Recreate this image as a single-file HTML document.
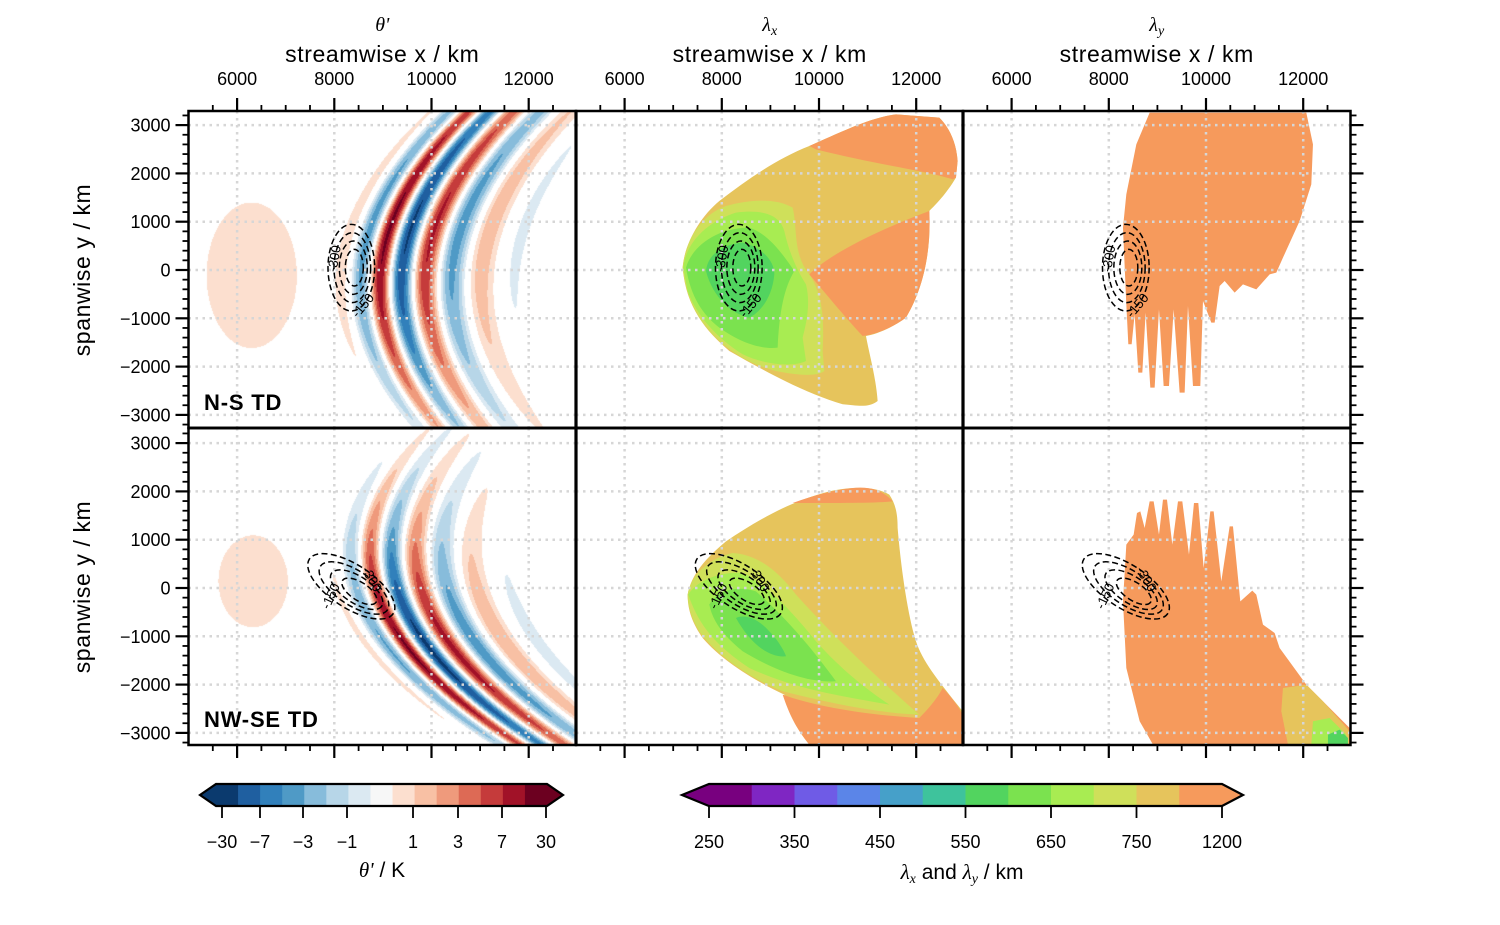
<!DOCTYPE html>
<html><head><meta charset="utf-8">
<style>
body{margin:0;background:#fff;}
#wrap{position:relative;width:1500px;height:925px;overflow:hidden;font-family:"Liberation Sans","DejaVu Sans",sans-serif;}
canvas{position:absolute;}
svg{position:absolute;left:0;top:0;}
</style></head>
<body>
<div id="wrap">
<canvas id="c1" width="388" height="317" style="left:188px;top:111px"></canvas>
<canvas id="c2" width="388" height="317" style="left:188px;top:428px"></canvas>
<svg id="s" width="1500" height="925" viewBox="0 0 1500 925">
 <g transform="translate(576,111) scale(0.3333)">
  <path fill="#e6c45c" d="M320,470 C325,400 370,320 430,270 C520,200 610,140 700,105 C780,70 880,20 960,10 L1090,20 C1110,40 1140,80 1145,150 L1140,200 C1110,250 1080,280 1060,300 C1065,400 1050,520 990,620 C950,650 900,670 870,675 C880,730 900,800 905,870 C880,890 850,885 800,880 C700,850 600,800 460,720 C390,660 330,590 320,470 Z"/>
  <path fill="#f69a5c" d="M700,105 C780,70 880,20 960,10 L1090,20 C1110,40 1140,80 1145,150 L1140,200 L1130,205 C1050,180 900,160 720,115 Z"/>
  <path fill="#f69a5c" d="M700,490 C760,430 900,360 1060,300 C1065,400 1050,520 990,620 C950,650 900,670 860,675 C800,610 760,560 700,490 Z"/>
  <path fill="#cfe05a" d="M320,470 C330,380 380,310 450,285 C520,265 600,260 650,290 C665,350 650,430 700,490 C740,550 745,620 740,720 L745,780 C720,800 650,790 600,780 C520,760 460,720 420,680 C360,620 330,560 320,470 Z"/>
  <path fill="#a8ec52" d="M322,470 C330,390 400,330 480,305 C560,295 610,310 625,360 C640,430 670,490 690,520 C705,580 690,640 680,680 L690,750 C650,770 560,760 500,730 C420,680 360,610 335,540 Z"/>
  <path fill="#7be24f" d="M330,470 C350,400 430,350 520,350 C580,370 620,430 655,480 C625,530 610,600 605,710 C560,715 500,700 430,650 C380,610 345,560 330,470 Z"/>
  <path fill="#52d45f" d="M390,480 C395,430 440,400 500,395 C560,410 595,450 595,490 C590,550 560,600 520,620 C470,610 410,560 390,480 Z"/>
 </g>
 <g transform="translate(576,428) scale(0.3333)">
  <path fill="#e6c45c" d="M335,500 C345,440 390,390 450,340 C540,280 640,220 760,190 C830,175 900,175 940,200 C960,230 965,260 965,300 C975,420 995,560 1020,640 C1040,700 1080,750 1160,850 L1160,950 L700,950 C660,900 640,860 625,800 C540,760 440,700 380,630 C345,580 335,540 335,500 Z"/>
  <path fill="#f69a5c" d="M650,225 C720,200 780,185 830,180 C880,175 920,185 950,220 C900,225 800,225 650,225 Z"/>
  <path fill="#f69a5c" d="M620,800 C700,830 850,860 1030,870 C1070,830 1090,800 1100,780 C1130,810 1150,840 1160,860 L1160,950 L700,950 C660,900 640,860 620,800 Z"/>
  <path fill="#cfe05a" d="M335,500 C345,440 400,390 470,375 C540,380 600,420 660,500 C760,610 870,720 1030,860 C900,855 760,825 620,790 C520,750 420,680 370,610 C345,570 335,530 335,500 Z"/>
  <path fill="#a8ec52" d="M337,500 C360,460 430,430 500,435 C560,460 640,540 720,640 C800,730 880,790 940,830 C800,805 660,785 520,720 C430,660 370,600 337,500 Z"/>
  <path fill="#7be24f" d="M400,530 C420,490 480,470 540,490 C620,560 700,650 780,760 C700,765 600,730 500,670 C440,620 410,580 400,530 Z"/>
  <path fill="#52d45f" d="M480,570 C500,560 540,565 580,610 C610,640 630,680 630,685 C590,690 530,660 480,570 Z"/>
 </g>
 <g transform="translate(963,111) scale(0.3333)">
  <path fill="#f69a5c" d="M480,350 L490,250 L520,100 L560,5 L1030,5 L1050,100 L1045,220 L1010,330 L960,440 L940,485 L920,490 L880,535 L840,520 L815,545 L785,510 L770,525 L755,635 L745,635 L720,570 L712,825 L690,825 L675,585 L665,845 L650,845 L632,595 L618,825 L602,825 L588,595 L575,830 L562,830 L548,605 L538,785 L526,785 L515,610 L506,700 L496,700 L490,580 Z"/>
 </g>
 <g transform="translate(963,428) scale(0.3333)">
  <path fill="#f69a5c" d="M480,520 L490,350 L512,320 L522,255 L532,250 L545,300 L560,220 L572,220 L588,320 L600,215 L612,215 L628,350 L645,220 L658,220 L678,380 L693,225 L706,225 L722,420 L742,250 L752,250 L775,460 L800,295 L810,295 L832,520 L868,488 L880,500 L900,590 L935,615 L950,660 L1030,770 L1160,900 L1160,950 L570,950 L530,880 L490,720 Z"/>
  <path fill="#e6c45c" d="M960,780 L1030,770 L1080,820 L1160,910 L1160,950 L975,950 L955,850 Z"/>
  <path fill="#a8ec52" d="M1050,880 L1100,870 L1150,920 L1150,950 L1045,950 Z"/>
  <path fill="#52d45f" d="M1095,920 L1130,905 L1155,930 L1155,950 L1095,950 Z"/>
 </g>
 <g id="grid"></g>
 <g id="contours"></g>
 <g id="axes"></g>
 <g id="cbars"></g>
</svg>
</div>
<script>
// ---- data arrays ----
const xTicks = [6000, 8000, 10000, 12000];
const yTicks = [-3000, -2000, -1000, 0, 1000, 2000, 3000];
const panelTitles = ["θ'", "λx", "λy"];
const rowLabels = ["N-S TD", "NW-SE TD"];
const thetaTickLabels = ["−30", "−7", "−3", "−1", "1", "3", "7", "30"];
const lambdaTickLabels = ["250", "350", "450", "550", "650", "750", "1200"];
const thetaColors = ["#0b3a6e","#1f5fa0","#3180bb","#4f9ac6","#87bcdb","#b7d6e8","#dbe9f2","#f7f7f7","#fcdfcf","#f8c0a4","#ef9a7c","#dd6a55","#c53b3b","#a11228","#6c0020"];
const lambdaColors = ["#78007f","#7f26c3","#6f5be6","#5b85e8","#46a0c9","#3ec39c","#52d45f","#7be24f","#a8ec52","#cfe05a","#e6c45c","#f69a5c"];
const ampLevels = [0.08, 0.18, 0.3, 0.43, 0.56, 0.7, 0.85];
const negColors = ["#dbe9f2","#b7d6e8","#87bcdb","#4f9ac6","#3180bb","#1f5fa0","#0b3a6e"];
const posColors = ["#fcdfcf","#f8c0a4","#ef9a7c","#dd6a55","#c53b3b","#a11228","#6c0020"];
// wave-packet parameters per row: [x0, curvature, tilt, crestOffset, yCenter, yWidth, downstreamWidth, amplitude]
const waveNS = [8150, 1.4e-4, 0.09, 800, 900, 4000, 1800, 0.9];
const waveNWSE = [8100, 1.9e-4, -0.3, 750, -1300, 3000, 1800, 0.92];
// upstream blob per row: [xCenter, yCenter, xWidth, yWidth, amplitude]
const blobNS = [6300, -100, 1170, 1900, 0.15];
const blobNWSE = [6330, 150, 900, 1200, 0.15];

const NS = "http://www.w3.org/2000/svg";
const panelsX = [188.5, 576, 963];
const rowsY = [111, 428];
const PW = 387.5, PH = 317;
const XS = 0.0486, YS = 0.0483;
function sx(p, x){ return panelsX[p] + (x - 5000) * XS; }
function sy(r, y){ return rowsY[r] + 159 + (r ? 1 : 0) - y * YS; }
function mk(tag, attrs, parent){ const e = document.createElementNS(NS, tag); for (const k in attrs) e.setAttribute(k, attrs[k]); parent.appendChild(e); return e; }

function drawTheta(id, w, b, r){
  const cv = document.getElementById(id), ctx = cv.getContext('2d');
  const img = ctx.createImageData(388, 317);
  const hex = c => [parseInt(c.substr(1,2),16), parseInt(c.substr(3,2),16), parseInt(c.substr(5,2),16)];
  const pc = posColors.map(hex), nc = negColors.map(hex);
  for (let py = 0; py < 317; py++){
    const y = (159 + (r ? 1 : 0) - py) / YS;
    for (let px = 0; px < 388; px++){
      const x = 5000 + px / XS;
      const s = x - (w[0] + w[1]*y*y + w[2]*y);
      const d = s - w[3];
      const lam = 850 + 0.1 * Math.max(d, 0);
      const env = w[7] * Math.exp(-Math.pow((s - 900) / (s < 900 ? 650 : w[6]), 2)) * Math.exp(-Math.pow((y - w[4]) / w[5], 2));
      const ph = Math.cos(2 * Math.PI * d / lam);
      let v = env * Math.sign(ph) * Math.pow(Math.abs(ph), 1.3);
      v += b[4] * Math.exp(-Math.pow((x - b[0]) / b[2], 2) - Math.pow((y - b[1]) / b[3], 2));
      const a = Math.abs(v);
      let k = -1;
      for (let i = 0; i < ampLevels.length; i++) if (a >= ampLevels[i]) k = i;
      const o = (py * 388 + px) * 4;
      if (k < 0){ img.data[o]=255; img.data[o+1]=255; img.data[o+2]=255; }
      else { const c = v > 0 ? pc[k] : nc[k]; img.data[o]=c[0]; img.data[o+1]=c[1]; img.data[o+2]=c[2]; }
      img.data[o+3] = 255;
    }
  }
  ctx.putImageData(img, 0, 0);
}
drawTheta('c1', waveNS, blobNS, 0);
drawTheta('c2', waveNWSE, blobNWSE, 1);

const grid = document.getElementById('grid');
for (let r = 0; r < 2; r++) for (let p = 0; p < 3; p++){
  xTicks.forEach(t => { const l = mk('line', {x1:sx(p,t), x2:sx(p,t), y1:rowsY[r], y2:rowsY[r]+PH, stroke:'#d6d6d6', 'stroke-width':2.5, 'stroke-dasharray':'2.5,4.5'}, grid);
      });
  yTicks.forEach(t => { const l = mk('line', {x1:panelsX[p], x2:panelsX[p]+PW, y1:sy(r,t), y2:sy(r,t), stroke:'#d6d6d6', 'stroke-width':2.5, 'stroke-dasharray':'2.5,4.5'}, grid);
      });
}

const cg = document.getElementById('contours');
for (let r = 0; r < 2; r++) for (let p = 0; p < 3; p++){
  const g = mk('g', {transform:`translate(${panelsX[p]-0.5},${rowsY[r]}) scale(0.3333)`, fill:'none', stroke:'#000', 'stroke-width':4.5, 'stroke-dasharray':'18,10'}, cg);
   
  if (r === 0){
    [[70,130],[55,105],[42,80],[27,55]].forEach((e,i) => mk('ellipse', {cx:490+i*3, cy:470, rx:e[0], ry:e[1]}, g));
    const t1 = mk('text', {x:0, y:0, transform:'translate(452,445) rotate(-80)', 'font-size':40, fill:'#000', stroke:'none', 'text-anchor':'middle'}, g); t1.textContent = '-300';
    const t2 = mk('text', {x:0, y:0, transform:'translate(535,592) rotate(-50)', 'font-size':40, fill:'#000', stroke:'none', 'text-anchor':'middle'}, g); t2.textContent = '-150';
  } else {
    [[150,65],[120,52],[90,40],[60,27]].forEach((e,i) => mk('ellipse', {cx:490+i*8, cy:475+i*5, rx:e[0], ry:e[1], transform:`rotate(33 ${490+i*8} ${475+i*5})`}, g));
    const t1 = mk('text', {x:0, y:0, transform:'translate(540,460) rotate(60)', 'font-size':40, fill:'#000', stroke:'none', 'text-anchor':'middle'}, g); t1.textContent = '-300';
    const t2 = mk('text', {x:0, y:0, transform:'translate(440,510) rotate(-65)', 'font-size':40, fill:'#000', stroke:'none', 'text-anchor':'middle'}, g); t2.textContent = '-150';
  }
}

const ax = document.getElementById('axes');
const L = panelsX[0], R = panelsX[2] + PW;
for (let r = 0; r < 2; r++){
  for (let p = 0; p < 3; p++){
    const f = mk('rect', {x:panelsX[p], y:rowsY[r], width:(p<2?panelsX[p+1]-panelsX[p]:PW), height:PH, fill:'none', stroke:'#000', 'stroke-width': 2.5}, ax);
     
  }
  for (let y = -3200; y <= 3200; y += 200){
    const maj = (y % 1000 === 0);
    const len = maj ? 13 : 6;
    const yy = sy(r, y);
    if (yy < rowsY[r] - 0.5 || yy > rowsY[r] + PH + 0.5) continue;
    mk('line', {x1:L-len, x2:L, y1:yy, y2:yy, stroke:'#000', 'stroke-width':maj?2.2:1.8}, ax);
    mk('line', {x1:R, x2:R+len, y1:yy, y2:yy, stroke:'#000', 'stroke-width':maj?2.2:1.8}, ax);
    if (maj){
      const t = mk('text', {x:L-18, y:yy+6.5, 'text-anchor':'end', 'font-size':18, fill:'#000'}, ax);
       
      t.textContent = y < 0 ? '−' + (-y) : String(y);
    }
  }
  const yl = mk('text', {x:0, y:0, transform:`translate(90,${rowsY[r]+159}) rotate(-90)`, 'text-anchor':'middle', 'font-size':23, 'letter-spacing':'0.6', fill:'#000'}, ax);
   
  yl.textContent = 'spanwise y / km';
  const rl = mk('text', {x:204, y:rowsY[r]+299, 'font-size':22, 'font-weight':'bold', 'letter-spacing':'0.8', fill:'#000'}, ax);
   
  rl.textContent = rowLabels[r];
}
for (let p = 0; p < 3; p++){
  for (let x = 5500; x <= 12500; x += 500){
    const maj = (x % 2000 === 0);
    const len = maj ? 13 : 6;
    const xx = sx(p, x);
    mk('line', {x1:xx, x2:xx, y1:rowsY[0]-len, y2:rowsY[0], stroke:'#000', 'stroke-width':maj?2.2:1.8}, ax);
    mk('line', {x1:xx, x2:xx, y1:rowsY[1]+PH, y2:rowsY[1]+PH+len, stroke:'#000', 'stroke-width':maj?2.2:1.8}, ax);
  }
  xTicks.forEach(t => {
    const tl = mk('text', {x:sx(p,t), y:85, 'text-anchor':'middle', 'font-size':18, fill:'#000'}, ax);
     
    tl.textContent = String(t);
  });
  const cx = panelsX[p] + PW/2;
  const xt = mk('text', {x:cx, y:62, 'text-anchor':'middle', 'font-size':23, 'letter-spacing':'0.6', fill:'#000'}, ax);
   
  xt.textContent = 'streamwise x / km';
  const pt = mk('text', {x:cx, y:31, 'text-anchor':'middle', 'font-size':20, 'font-style':'italic', 'font-family':'"Liberation Serif", serif', fill:'#000'}, ax);
   
  if (p === 0) pt.textContent = panelTitles[0];
  else { pt.textContent = 'λ'; const sub = mk('tspan', {'font-size':14, dy:4}, pt); sub.textContent = p === 1 ? 'x' : 'y'; }
}
[576, 963].forEach(x => mk('line', {x1:x, x2:x, y1:rowsY[0], y2:rowsY[1]+PH, stroke:'#000', 'stroke-width':3.2}, ax));
mk('line', {x1:L, x2:R, y1:428, y2:428, stroke:'#000', 'stroke-width':2.8}, ax);

const cb = document.getElementById('cbars');
function colorbar(x0, x1, tipL, tipR, colors, tickPos, labels, name){
  const y0 = 784, y1 = 806, n = colors.length, w = (x1 - x0) / n;
  const g = mk('g', {}, cb);
   
  mk('path', {d:`M${x0},${y0} L${tipL},${(y0+y1)/2} L${x0},${y1} Z`, fill:colors[0]}, g);
  mk('path', {d:`M${x1},${y0} L${tipR},${(y0+y1)/2} L${x1},${y1} Z`, fill:colors[n-1]}, g);
  colors.forEach((c, i) => mk('rect', {x:x0 + i*w, y:y0, width:w+0.6, height:y1-y0, fill:c}, g));
  mk('path', {d:`M${x0},${y0} L${x1},${y0} L${tipR},${(y0+y1)/2} L${x1},${y1} L${x0},${y1} L${tipL},${(y0+y1)/2} Z`, fill:'none', stroke:'#000', 'stroke-width':2.2}, g);
  tickPos.forEach((t, i) => {
    mk('line', {x1:t, x2:t, y1:y1, y2:y1+12, stroke:'#000', 'stroke-width':1.8}, g);
    const tl = mk('text', {x:t, y:848, 'text-anchor':'middle', 'font-size':18, fill:'#000'}, g);
     
    tl.textContent = labels[i];
  });
}
colorbar(216, 547, 200, 563, thetaColors, [222, 260, 303, 347, 413, 458, 502, 546], thetaTickLabels, 'theta-colorbar');
colorbar(709, 1222, 682, 1243, lambdaColors, lambdaTickLabels.map((_, i) => 709 + i * (1222 - 709) / 6), lambdaTickLabels, 'lambda-colorbar');
const ct1 = mk('text', {x:382, y:877, 'text-anchor':'middle', 'font-size':21, fill:'#000'}, cb);
 
ct1.innerHTML = '<tspan font-family="Liberation Serif, serif" font-style="italic">θ\'</tspan> / K';
const ct2 = mk('text', {x:962, y:879, 'text-anchor':'middle', 'font-size':21, fill:'#000'}, cb);
 
ct2.innerHTML = '<tspan font-family="Liberation Serif, serif" font-style="italic">λ<tspan font-size="14" dy="4">x</tspan></tspan><tspan dy="-4"> and </tspan><tspan font-family="Liberation Serif, serif" font-style="italic">λ<tspan font-size="14" dy="4">y</tspan></tspan><tspan dy="-4"> / km</tspan>';
</script>
</body></html>
